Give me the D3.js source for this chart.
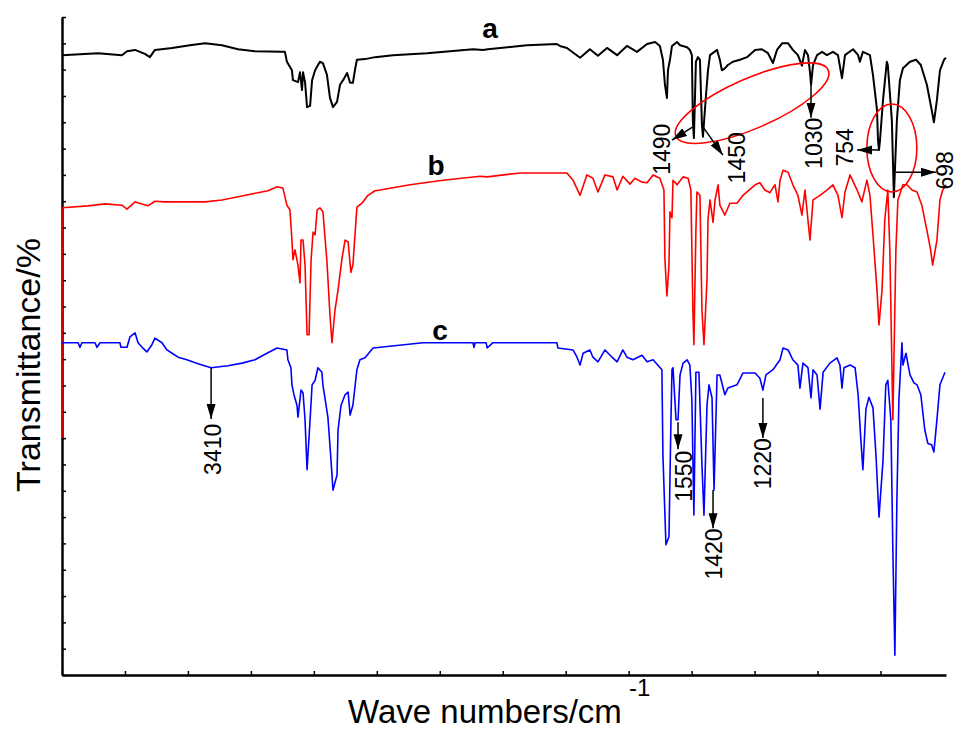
<!DOCTYPE html>
<html>
<head>
<meta charset="utf-8">
<style>
 body { margin: 0; background: #fff; }
 svg { font-family: Arial, "Liberation Sans", sans-serif; background: #fff; }
 .axis path, .axis line { stroke: #000; }
</style>
</head>
<body>
<svg width="957" height="731"></svg>
<script src="https://cdn.jsdelivr.net/npm/d3@7/dist/d3.min.js"></script>
<script>
// spectra: [wave number cm-1, transmittance %]
var specA = [[4000,94.2],[3857,94.5],[3762,94.2],[3742,94.8],[3710,95.0],[3671,94.4],[3651,93.9],[3631,95.0],[3563,95.3],[3492,95.7],[3432,96.0],[3365,95.7],[3301,95.1],[3234,94.8],[3127,94.7],[3115,94.7],[3107,93.2],[3087,91.9],[3083,90.4],[3063,90.1],[3055,91.6],[3047,88.9],[3043,91.6],[3035,90.1],[3027,86.3],[3015,86.5],[3007,90.4],[2995,91.9],[2976,93.2],[2964,93.0],[2948,91.2],[2936,87.7],[2924,86.3],[2908,87.1],[2896,89.7],[2884,90.4],[2868,91.5],[2856,90.0],[2845,90.0],[2837,91.9],[2829,93.5],[2797,93.6],[2757,93.9],[2686,94.2],[2551,94.5],[2368,95.1],[2328,95.0],[2309,95.1],[2154,95.7],[2035,95.9],[2023,95.6],[1995,95.3],[1943,93.8],[1904,95.1],[1872,94.1],[1836,95.3],[1796,94.2],[1757,95.6],[1717,94.7],[1677,95.9],[1645,96.2],[1626,95.6],[1614,93.5],[1606,89.7],[1598,87.7],[1594,91.9],[1586,93.5],[1578,95.6],[1558,96.2],[1546,95.7],[1518,95.4],[1507,95.0],[1499,94.2],[1495,84.3],[1491,81.6],[1483,93.2],[1475,93.9],[1467,93.5],[1459,83.6],[1455,81.8],[1443,88.1],[1435,91.9],[1427,94.2],[1399,95.0],[1388,93.5],[1380,91.9],[1368,92.2],[1356,92.7],[1336,93.2],[1308,93.5],[1280,93.9],[1248,95.0],[1221,95.1],[1197,94.5],[1177,93.0],[1161,95.0],[1141,96.0],[1117,96.0],[1098,95.0],[1078,94.2],[1062,92.6],[1050,95.0],[1038,94.2],[1030,91.6],[1026,89.7],[1018,92.7],[1002,94.2],[982,94.7],[963,94.2],[939,94.7],[919,94.2],[903,90.7],[891,94.2],[859,95.1],[839,94.2],[832,93.2],[820,94.7],[792,94.2],[780,91.2],[764,85.9],[760,81.3],[756,79.8],[752,81.3],[740,87.4],[725,93.2],[721,92.7],[705,84.3],[697,72.6],[685,84.3],[673,90.4],[661,92.2],[633,93.2],[609,93.5],[590,92.7],[566,89.7],[547,85.9],[538,84.0],[526,87.4],[514,91.9],[498,93.5],[490,93.8]];

var specB = [[4000,36.0],[4000,71.0],[3897,71.3],[3829,71.6],[3762,71.4],[3742,70.8],[3710,71.9],[3659,71.3],[3631,72.0],[3591,71.9],[3432,71.9],[3365,72.2],[3285,72.8],[3182,73.6],[3146,74.2],[3123,74.0],[3107,71.4],[3095,70.7],[3087,66.1],[3083,63.1],[3075,64.6],[3063,62.3],[3055,59.6],[3051,66.1],[3043,66.1],[3035,62.3],[3027,51.7],[3019,51.7],[3011,63.1],[3003,67.3],[2995,66.9],[2987,70.7],[2976,71.0],[2964,70.4],[2948,62.8],[2936,54.7],[2928,50.5],[2916,55.5],[2904,58.5],[2888,63.4],[2876,66.1],[2864,65.8],[2853,61.2],[2845,62.3],[2829,71.1],[2809,71.7],[2785,72.9],[2757,73.6],[2737,73.7],[2618,74.5],[2487,75.2],[2340,75.8],[2312,75.7],[2181,76.3],[1995,76.3],[1971,75.2],[1943,72.9],[1916,76.0],[1892,75.5],[1872,73.4],[1844,76.0],[1812,75.7],[1796,73.7],[1773,75.8],[1745,74.6],[1725,75.5],[1697,74.9],[1677,74.8],[1653,76.0],[1626,75.5],[1610,73.7],[1606,63.1],[1598,57.6],[1590,62.3],[1586,70.4],[1578,69.5],[1574,75.2],[1558,74.5],[1534,75.7],[1514,75.5],[1503,73.7],[1495,55.5],[1491,50.2],[1483,67.6],[1479,73.4],[1467,72.9],[1459,55.5],[1451,50.2],[1439,60.0],[1435,69.2],[1427,72.2],[1415,68.8],[1407,72.2],[1395,74.5],[1388,71.4],[1368,69.9],[1348,71.7],[1320,71.7],[1296,72.9],[1248,74.5],[1229,74.8],[1209,73.7],[1189,73.3],[1169,74.5],[1157,71.9],[1149,75.2],[1137,76.7],[1117,76.4],[1098,74.5],[1078,72.9],[1062,69.9],[1050,73.7],[1030,66.1],[1018,72.2],[990,72.9],[963,73.7],[939,74.5],[919,72.9],[903,69.5],[891,73.4],[871,76.0],[843,73.7],[824,71.9],[804,75.2],[792,72.9],[780,66.9],[764,58.5],[756,53.2],[744,58.5],[733,69.2],[721,73.7],[713,64.6],[701,38.8],[689,64.6],[681,72.2],[661,74.5],[645,74.5],[625,73.7],[605,73.4],[586,71.4],[566,67.6],[551,64.6],[543,62.3],[526,66.1],[514,72.2],[503,73.7],[490,74.5]];

var specC = [[4000,50.5],[3936,50.5],[3929,49.8],[3921,50.5],[3869,50.5],[3861,49.8],[3849,50.5],[3770,50.5],[3766,49.8],[3742,49.8],[3730,51.4],[3710,52.0],[3698,50.5],[3682,49.8],[3663,49.1],[3643,50.2],[3631,51.2],[3603,50.5],[3583,49.4],[3563,48.9],[3539,48.3],[3504,47.9],[3460,47.3],[3408,46.7],[3341,47.0],[3285,47.4],[3234,47.9],[3186,48.9],[3146,49.7],[3107,49.4],[3103,47.9],[3091,46.7],[3087,44.1],[3079,42.6],[3067,41.0],[3063,39.2],[3051,43.3],[3043,42.9],[3035,38.8],[3027,31.2],[3015,38.8],[3007,44.1],[2995,44.8],[2984,46.7],[2968,46.0],[2964,44.1],[2944,39.1],[2932,32.7],[2924,28.1],[2908,30.4],[2904,37.2],[2892,41.0],[2876,42.6],[2864,43.0],[2856,39.5],[2845,41.0],[2829,46.4],[2817,47.9],[2797,48.2],[2765,49.7],[2567,50.5],[2368,50.5],[2364,49.8],[2360,50.5],[2316,50.5],[2312,49.7],[2289,50.5],[2035,50.5],[2031,49.7],[1971,49.4],[1955,48.3],[1943,47.1],[1931,48.9],[1904,49.4],[1892,48.3],[1872,47.6],[1844,49.4],[1816,48.3],[1796,47.6],[1773,49.4],[1757,48.3],[1733,47.9],[1697,48.6],[1677,47.6],[1653,47.9],[1618,46.4],[1614,33.4],[1602,19.8],[1590,21.0],[1582,38.8],[1578,46.4],[1574,46.7],[1562,38.8],[1554,38.8],[1546,45.6],[1534,47.4],[1518,47.9],[1507,47.1],[1499,41.8],[1491,24.3],[1483,46.0],[1471,46.0],[1459,31.9],[1451,24.3],[1439,41.0],[1431,44.1],[1419,42.1],[1411,28.1],[1399,45.6],[1388,45.6],[1368,42.6],[1356,43.6],[1320,44.1],[1296,45.9],[1248,45.9],[1229,45.1],[1217,43.3],[1205,45.6],[1177,46.4],[1149,47.9],[1137,49.7],[1117,49.4],[1098,47.9],[1078,47.1],[1070,43.6],[1058,47.4],[1038,46.7],[1026,42.1],[1018,46.4],[1002,45.6],[990,40.4],[978,46.0],[951,47.4],[923,48.2],[911,47.1],[903,43.6],[895,46.7],[871,47.1],[851,46.7],[839,42.6],[828,35.7],[820,31.2],[808,40.4],[796,42.2],[780,40.6],[768,33.4],[756,24.0],[740,32.7],[729,44.1],[721,44.8],[709,38.8],[701,19.0],[693,3.0],[685,26.6],[677,41.8],[665,50.5],[661,47.1],[649,48.9],[633,45.6],[617,44.4],[605,44.1],[590,42.6],[574,37.2],[562,35.2],[547,35.0],[538,33.9],[526,38.8],[514,44.1],[494,46.0]];

var seriesNames = ["a", "b", "c"];
var seriesColors = ["#000000", "#ff0000", "#0000ff"];
var nameAt = [[2300, 96.8], [2515, 76.0], [2499, 50.9]];

// peak annotations
var peakLabels = ["1490", "1450", "1030", "754", "698", "3410", "1550", "1420", "1220"];
var arrowFrom = [[1495,83.3],[1455,83.3],[1026,89.7],[756,79.8],[689,76.4],[3408,46.7],[1554,38.4],[1415,28.1],[1217,42.1]];
var arrowTo = [[1578,81.3],[1376,79.0],[1026,84.7],[843,79.8],[530,76.4],[3408,38.9],[1554,34.3],[1415,22.3],[1217,36.0]];
var labelAt = [[1618,79.9],[1322,78.6],[1016,80.8],[891,80.2],[494,76.7],[3402,34.3],[1530,30.2],[1413,18.4],[1215,32.1]];

// circled regions
var ringCentre = [[1260, 86.9], [705, 80.1]];

var yTicks = d3.range(0, 101, 4);
var xTicks = d3.range(4000, 749, -250);

var svg = d3.select("svg");
var x = d3.scaleLinear().domain([4000, 490]).range([62, 946]);
var y = d3.scaleLinear().domain([0, 100]).range([675, 17]);

var defs = svg.append("defs");
defs.append("marker")
    .attr("id", "head")
    .attr("markerUnits", "userSpaceOnUse")
    .attr("viewBox", "0 -5 15 10")
    .attr("refX", 15).attr("refY", 0)
    .attr("markerWidth", 15).attr("markerHeight", 10)
    .attr("orient", "auto")
  .append("path")
    .attr("d", "M0,-4.5L15,0L0,4.5Z")
    .attr("fill", "#000");

// axes (only left and bottom, inward ticks, no labels)
var yAxisG = svg.append("g")
    .attr("class", "axis")
    .attr("transform", "translate(62,0)")
    .call(d3.axisRight(y).tickValues(yTicks).tickSize(4).tickSizeOuter(0).tickFormat(""));
var xAxisG = svg.append("g")
    .attr("class", "axis")
    .attr("transform", "translate(0,675)")
    .call(d3.axisTop(x).tickValues(xTicks).tickSize(4).tickSizeOuter(0).tickFormat(""));
svg.selectAll(".axis .domain").attr("stroke-width", 2.5);
svg.selectAll(".axis .tick line").attr("stroke-width", 1.5);

// spectra
var line = d3.line().x(function(d){ return x(d[0]); }).y(function(d){ return y(d[1]); });
var specs = [specA, specB, specC];
var widths = [2, 1.6, 1.6];
specs.forEach(function(s, i){
    svg.append("path")
       .datum(s)
       .attr("d", line)
       .attr("fill", "none")
       .attr("stroke", seriesColors[i])
       .attr("stroke-width", widths[i])
       .attr("stroke-linejoin", "round");
});

// series names
seriesNames.forEach(function(n, i){
    svg.append("text")
       .attr("x", x(nameAt[i][0]))
       .attr("y", y(nameAt[i][1]))
       .attr("text-anchor", "middle")
       .style("font-size", "28px")
       .style("font-weight", "bold")
       .text(n);
});

// red rings
var ringSize = [[83, 25, -23.5], [25, 44, 0]];
ringCentre.forEach(function(c, i){
    svg.append("ellipse")
       .attr("transform", "translate(" + x(c[0]) + "," + y(c[1]) + ") rotate(" + ringSize[i][2] + ")")
       .attr("rx", ringSize[i][0])
       .attr("ry", ringSize[i][1])
       .attr("fill", "none")
       .attr("stroke", "#ff0000")
       .attr("stroke-width", 1.6);
});

// arrows and peak numbers
peakLabels.forEach(function(t, i){
    svg.append("line")
       .attr("x1", x(arrowFrom[i][0])).attr("y1", y(arrowFrom[i][1]))
       .attr("x2", x(arrowTo[i][0])).attr("y2", y(arrowTo[i][1]))
       .attr("stroke", "#000")
       .attr("stroke-width", 1.5)
       .attr("marker-end", "url(#head)");
    svg.append("text")
       .attr("transform", "translate(" + x(labelAt[i][0]) + "," + y(labelAt[i][1]) + ") rotate(-90)")
       .attr("text-anchor", "middle")
       .attr("dy", "0.35em")
       .style("font-size", "23px")
       .text(t);
});

// axis titles
svg.append("text")
   .attr("transform", "translate(28,365) rotate(-90)")
   .attr("text-anchor", "middle")
   .attr("dy", "0.35em")
   .style("font-size", "34px")
   .text("Transmittance/%");

svg.append("text")
   .attr("x", 348)
   .attr("y", 723)
   .style("font-size", "33px")
   .text("Wave numbers/cm");
svg.append("text")
   .attr("x", 629)
   .attr("y", 696)
   .style("font-size", "24px")
   .text("-1");
</script>
</body>
</html>
